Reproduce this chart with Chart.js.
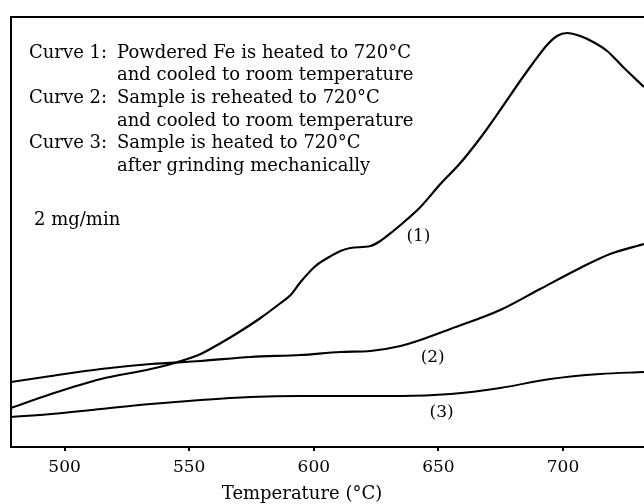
<!DOCTYPE html>
<html>
<head>
<meta charset="utf-8">
<script src="https://cdn.jsdelivr.net/npm/chart.js@4.4.1/dist/chart.umd.min.js"></script>
<style>
  html, body { margin: 0; padding: 0; background: #fff; overflow: hidden; }
  #wrap { position: relative; width: 644px; height: 504px; }
</style>
</head>
<body>
<div id="wrap"><canvas id="c" width="644" height="504"></canvas></div>
<script>
// ---- data (temperature in °C, signal in arbitrary units of mass-change rate) ----
const tickTemps = [500, 550, 600, 650, 700];

const temps1 = [478.5, 494.6, 514.6, 534.6, 545.4, 554.6, 562.7, 570.7, 578.6, 586.7,
                590.7, 594.7, 600.7, 605.5, 610.7, 614.7, 622.7, 626.7, 631.9, 637.6,
                642.8, 650.8, 658.8, 666.8, 674.8, 682.8, 688.0, 693.6, 697.6, 701.6,
                706.9, 712.1, 717.7, 724.1, 732.5];
const curve1 = [39, 53, 68, 78, 85, 93, 104, 116, 129, 144,
                152, 165, 181, 189, 196, 199, 201, 206, 216, 228,
                240, 263, 284, 309, 337, 366, 384, 402, 411, 414,
                411, 405, 396, 380, 360];

const temps2 = [478.5, 494.6, 514.6, 534.6, 554.6, 574.6, 594.7, 610.7, 622.7, 634.8,
                642.8, 654.8, 674.8, 690.8, 706.9, 718.9, 732.5];
const curve2 = [65, 71, 78, 83, 86, 90, 92, 95, 96, 101,
                107, 118, 137, 158, 179, 193, 203];

const temps3 = [478.5, 494.6, 514.6, 534.6, 554.6, 574.6, 594.7, 614.7, 634.8, 654.8,
                674.8, 694.9, 714.9, 732.5];
const curve3 = [30, 33, 38, 43, 47, 50, 51, 51, 51, 53,
                59, 68, 73, 75];

const curveNames = ['(1)', '(2)', '(3)'];
const noteLeft = ['Curve 1:', '', 'Curve 2:', '', 'Curve 3:', ''];
const noteRight = ['Powdered Fe is heated to 720°C',
                   'and cooled to room temperature',
                   'Sample is reheated to 720°C',
                   'and cooled to room temperature',
                   'Sample is heated to 720°C',
                   'after grinding mechanically'];
const scaleNote = '2 mg/min';
const xTitle = 'Temperature (°C)';

// ---- build ----
const toXY = (xs, ys) => xs.map((x, i) => ({ x: x, y: ys[i] }));
const FONT = '"DejaVu Serif", "Liberation Serif", serif';

const lineStyle = {
  borderColor: '#000',
  pointRadius: 0,
  fill: false,
  cubicInterpolationMode: 'monotone',
  tension: 0.4
};

const annot = {
  id: 'annot',
  afterDraw(chart) {
    const { ctx, chartArea: a, scales } = chart;
    ctx.save();
    // frame (left, top, bottom)
    ctx.strokeStyle = '#000';
    ctx.lineWidth = 2;
    ctx.beginPath();
    ctx.moveTo(a.right + 2, a.top);
    ctx.lineTo(a.left, a.top);
    ctx.lineTo(a.left, a.bottom);
    ctx.lineTo(a.right + 2, a.bottom);
    ctx.stroke();

    ctx.fillStyle = '#000';
    ctx.textBaseline = 'middle';
    ctx.font = '18px ' + FONT;
    // legend text block
    const y0 = 53, dy = 22.7;
    for (let i = 0; i < noteRight.length; i++) {
      ctx.textAlign = 'left';
      if (noteLeft[i]) ctx.fillText(noteLeft[i], 29, y0 + i * dy);
      ctx.fillText(noteRight[i], 117, y0 + i * dy);
    }
    ctx.fillText(scaleNote, 34, 220);

    // curve labels
    ctx.textAlign = 'center';
    ctx.font = '17px ' + FONT;
    const lab = [[642, 210], [647.7, 89], [651.3, 34]];
    lab.forEach((p, i) => {
      ctx.fillText(curveNames[i], scales.x.getPixelForValue(p[0]), scales.y.getPixelForValue(p[1]));
    });

    // axis title
    ctx.font = '18px ' + FONT;
    ctx.fillText(xTitle, 302, 494);
    ctx.restore();
  }
};

new Chart(document.getElementById('c'), {
  type: 'line',
  data: {
    datasets: [
      Object.assign({ label: 'Curve 1', data: toXY(temps1, curve1), borderWidth: 2.2 }, lineStyle),
      Object.assign({ label: 'Curve 2', data: toXY(temps2, curve2), borderWidth: 2.2 }, lineStyle),
      Object.assign({ label: 'Curve 3', data: toXY(temps3, curve3), borderWidth: 1.9 }, lineStyle)
    ]
  },
  options: {
    responsive: false,
    animation: false,
    devicePixelRatio: 1,
    layout: { padding: { left: 11, top: 17, right: 0, bottom: 0 } },
    plugins: { legend: { display: false }, tooltip: { enabled: false }, title: { display: false } },
    scales: {
      x: {
        type: 'linear',
        min: 478.5,
        max: 732.5,
        afterBuildTicks(scale) { scale.ticks = tickTemps.map(v => ({ value: v })); },
        afterFit(scale) { scale.height = 57; },
        border: { display: false },
        grid: { display: true, drawOnChartArea: false, drawTicks: true, tickLength: 4, color: '#000', lineWidth: 2 },
        ticks: { color: '#000', padding: 6, maxRotation: 0, autoSkip: false,
                 font: { family: FONT, size: 17 } }
      },
      y: {
        display: false,
        min: 0,
        max: 430
      }
    }
  },
  plugins: [annot]
});
</script>
</body>
</html>
